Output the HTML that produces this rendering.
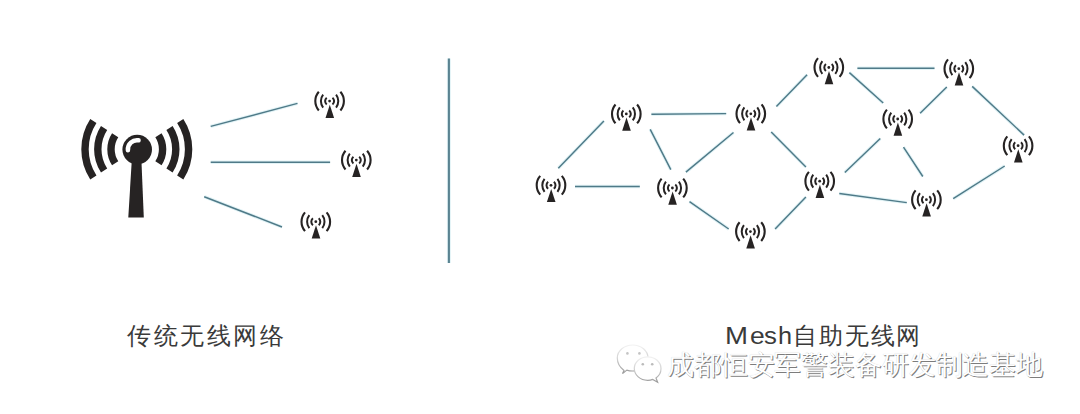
<!DOCTYPE html>
<html><head><meta charset="utf-8"><style>
html,body{margin:0;padding:0;background:#fff;}
body{width:1080px;height:414px;position:relative;overflow:hidden;font-family:"Liberation Sans",sans-serif;}
svg{position:absolute;left:0;top:0;}
.t{position:absolute;white-space:nowrap;color:#3a3a3a;line-height:1;}
.m{position:absolute;top:0;transform-origin:0 0;}
</style></head><body>
<svg width="1080" height="414" viewBox="0 0 1080 414">
<path d="M448.9 58.5V263" stroke="#e2f3f6" stroke-width="4" fill="none"/>
<path d="M210.7 126.4L297.5 103.4M210.7 162.3L330.1 162.3M204.2 196.7L282 227M558.3 168.3L603.9 120.9M575 186.5L639.8 186.5M651.4 114.2L726.2 113.6M650.2 129.3L670.8 169.7M685.9 172.1L733.5 132.5M689.5 201.7L728.7 229M776.4 106.4L807.1 74.8M771.2 131.9L805.9 167.1M775.1 229L805.9 197.1M857.4 68.3L934.5 68.3M849.4 72.6L883.2 103M844.8 172.5L880.3 138.6M839.3 193.5L906.8 202.6M920.1 113.2L946.8 87.1M903.5 147.2L922.8 176.5M972.2 86.4L1024.1 135.1M1004.7 166L953.2 198.7" stroke="#e2f3f6" stroke-width="3.4" fill="none"/>
<path d="M448.9 58.5V263" stroke="#5a8391" stroke-width="2.1" fill="none"/>
<path d="M210.7 126.4L297.5 103.4M210.7 162.3L330.1 162.3M204.2 196.7L282 227M558.3 168.3L603.9 120.9M575 186.5L639.8 186.5M651.4 114.2L726.2 113.6M650.2 129.3L670.8 169.7M685.9 172.1L733.5 132.5M689.5 201.7L728.7 229M776.4 106.4L807.1 74.8M771.2 131.9L805.9 167.1M775.1 229L805.9 197.1M857.4 68.3L934.5 68.3M849.4 72.6L883.2 103M844.8 172.5L880.3 138.6M839.3 193.5L906.8 202.6M920.1 113.2L946.8 87.1M903.5 147.2L922.8 176.5M972.2 86.4L1024.1 135.1M1004.7 166L953.2 198.7" stroke="#4f7a88" stroke-width="1.45" fill="none"/>
<path d="M158.44 135.15A25.8 25.8 0 0 1 158.44 163.25M115.16 163.25A25.8 25.8 0 0 1 115.16 135.15M169.51 127.96A39.0 39.0 0 0 1 169.51 170.44M104.09 170.44A39.0 39.0 0 0 1 104.09 127.96M180.24 120.99A51.8 51.8 0 0 1 180.24 177.41M93.36 177.41A51.8 51.8 0 0 1 93.36 120.99" stroke="#262323" stroke-width="7.4" fill="none"/>
<circle cx="137.2" cy="149.6" r="14.8" fill="#262323"/>
<path d="M131.8 160L141.4 160L143.8 217.5L128.3 217.5Z" fill="#262323"/>
<path d="M127.94 150.20A9.2 9.2 0 0 1 138.54 140.31" stroke="#fff" stroke-width="4.5" stroke-linecap="round" fill="none"/>
<g transform="translate(329.6 101.1)"><g><g fill="none" stroke="#262323"><path d="M2.89 -3.45A4.5 4.5 0 0 1 2.89 3.45M-2.89 3.45A4.5 4.5 0 0 1 -2.89 -3.45" stroke-width="2.0"/><path d="M6.47 -6.46A10.5 10.5 0 0 1 6.47 6.46M-6.47 6.46A10.5 10.5 0 0 1 -6.47 -6.46" stroke-width="2.0"/><path d="M10.79 -9.38A14.3 14.3 0 0 1 10.79 9.38M-10.79 9.38A14.3 14.3 0 0 1 -10.79 -9.38" stroke-width="2.1"/></g><circle cx="0" cy="0" r="1.4" fill="#262323"/><path d="M0.2 3.6L4.5 16.8H-4.1Z" fill="#262323"/></g></g><g transform="translate(356.3 160.1)"><g><g fill="none" stroke="#262323"><path d="M2.89 -3.45A4.5 4.5 0 0 1 2.89 3.45M-2.89 3.45A4.5 4.5 0 0 1 -2.89 -3.45" stroke-width="2.0"/><path d="M6.47 -6.46A10.5 10.5 0 0 1 6.47 6.46M-6.47 6.46A10.5 10.5 0 0 1 -6.47 -6.46" stroke-width="2.0"/><path d="M10.79 -9.38A14.3 14.3 0 0 1 10.79 9.38M-10.79 9.38A14.3 14.3 0 0 1 -10.79 -9.38" stroke-width="2.1"/></g><circle cx="0" cy="0" r="1.4" fill="#262323"/><path d="M0.2 3.6L4.5 16.8H-4.1Z" fill="#262323"/></g></g><g transform="translate(315.8 221.7)"><g><g fill="none" stroke="#262323"><path d="M2.89 -3.45A4.5 4.5 0 0 1 2.89 3.45M-2.89 3.45A4.5 4.5 0 0 1 -2.89 -3.45" stroke-width="2.0"/><path d="M6.47 -6.46A10.5 10.5 0 0 1 6.47 6.46M-6.47 6.46A10.5 10.5 0 0 1 -6.47 -6.46" stroke-width="2.0"/><path d="M10.79 -9.38A14.3 14.3 0 0 1 10.79 9.38M-10.79 9.38A14.3 14.3 0 0 1 -10.79 -9.38" stroke-width="2.1"/></g><circle cx="0" cy="0" r="1.4" fill="#262323"/><path d="M0.2 3.6L4.5 16.8H-4.1Z" fill="#262323"/></g></g><g transform="translate(551 185.3)"><g><g fill="none" stroke="#262323"><path d="M2.89 -3.45A4.5 4.5 0 0 1 2.89 3.45M-2.89 3.45A4.5 4.5 0 0 1 -2.89 -3.45" stroke-width="2.0"/><path d="M6.47 -6.46A10.5 10.5 0 0 1 6.47 6.46M-6.47 6.46A10.5 10.5 0 0 1 -6.47 -6.46" stroke-width="2.0"/><path d="M10.79 -9.38A14.3 14.3 0 0 1 10.79 9.38M-10.79 9.38A14.3 14.3 0 0 1 -10.79 -9.38" stroke-width="2.1"/></g><circle cx="0" cy="0" r="1.4" fill="#262323"/><path d="M0.2 3.6L4.5 16.8H-4.1Z" fill="#262323"/></g></g><g transform="translate(626.3 113.9)"><g><g fill="none" stroke="#262323"><path d="M2.89 -3.45A4.5 4.5 0 0 1 2.89 3.45M-2.89 3.45A4.5 4.5 0 0 1 -2.89 -3.45" stroke-width="2.0"/><path d="M6.47 -6.46A10.5 10.5 0 0 1 6.47 6.46M-6.47 6.46A10.5 10.5 0 0 1 -6.47 -6.46" stroke-width="2.0"/><path d="M10.79 -9.38A14.3 14.3 0 0 1 10.79 9.38M-10.79 9.38A14.3 14.3 0 0 1 -10.79 -9.38" stroke-width="2.1"/></g><circle cx="0" cy="0" r="1.4" fill="#262323"/><path d="M0.2 3.6L4.5 16.8H-4.1Z" fill="#262323"/></g></g><g transform="translate(672.4 188)"><g><g fill="none" stroke="#262323"><path d="M2.89 -3.45A4.5 4.5 0 0 1 2.89 3.45M-2.89 3.45A4.5 4.5 0 0 1 -2.89 -3.45" stroke-width="2.0"/><path d="M6.47 -6.46A10.5 10.5 0 0 1 6.47 6.46M-6.47 6.46A10.5 10.5 0 0 1 -6.47 -6.46" stroke-width="2.0"/><path d="M10.79 -9.38A14.3 14.3 0 0 1 10.79 9.38M-10.79 9.38A14.3 14.3 0 0 1 -10.79 -9.38" stroke-width="2.1"/></g><circle cx="0" cy="0" r="1.4" fill="#262323"/><path d="M0.2 3.6L4.5 16.8H-4.1Z" fill="#262323"/></g></g><g transform="translate(750.8 113.8)"><g><g fill="none" stroke="#262323"><path d="M2.89 -3.45A4.5 4.5 0 0 1 2.89 3.45M-2.89 3.45A4.5 4.5 0 0 1 -2.89 -3.45" stroke-width="2.0"/><path d="M6.47 -6.46A10.5 10.5 0 0 1 6.47 6.46M-6.47 6.46A10.5 10.5 0 0 1 -6.47 -6.46" stroke-width="2.0"/><path d="M10.79 -9.38A14.3 14.3 0 0 1 10.79 9.38M-10.79 9.38A14.3 14.3 0 0 1 -10.79 -9.38" stroke-width="2.1"/></g><circle cx="0" cy="0" r="1.4" fill="#262323"/><path d="M0.2 3.6L4.5 16.8H-4.1Z" fill="#262323"/></g></g><g transform="translate(750.4 231.6)"><g><g fill="none" stroke="#262323"><path d="M2.89 -3.45A4.5 4.5 0 0 1 2.89 3.45M-2.89 3.45A4.5 4.5 0 0 1 -2.89 -3.45" stroke-width="2.0"/><path d="M6.47 -6.46A10.5 10.5 0 0 1 6.47 6.46M-6.47 6.46A10.5 10.5 0 0 1 -6.47 -6.46" stroke-width="2.0"/><path d="M10.79 -9.38A14.3 14.3 0 0 1 10.79 9.38M-10.79 9.38A14.3 14.3 0 0 1 -10.79 -9.38" stroke-width="2.1"/></g><circle cx="0" cy="0" r="1.4" fill="#262323"/><path d="M0.2 3.6L4.5 16.8H-4.1Z" fill="#262323"/></g></g><g transform="translate(828.8 67.5)"><g><g fill="none" stroke="#262323"><path d="M2.89 -3.45A4.5 4.5 0 0 1 2.89 3.45M-2.89 3.45A4.5 4.5 0 0 1 -2.89 -3.45" stroke-width="2.0"/><path d="M6.47 -6.46A10.5 10.5 0 0 1 6.47 6.46M-6.47 6.46A10.5 10.5 0 0 1 -6.47 -6.46" stroke-width="2.0"/><path d="M10.79 -9.38A14.3 14.3 0 0 1 10.79 9.38M-10.79 9.38A14.3 14.3 0 0 1 -10.79 -9.38" stroke-width="2.1"/></g><circle cx="0" cy="0" r="1.4" fill="#262323"/><path d="M0.2 3.6L4.5 16.8H-4.1Z" fill="#262323"/></g></g><g transform="translate(819.7 181.2)"><g><g fill="none" stroke="#262323"><path d="M2.89 -3.45A4.5 4.5 0 0 1 2.89 3.45M-2.89 3.45A4.5 4.5 0 0 1 -2.89 -3.45" stroke-width="2.0"/><path d="M6.47 -6.46A10.5 10.5 0 0 1 6.47 6.46M-6.47 6.46A10.5 10.5 0 0 1 -6.47 -6.46" stroke-width="2.0"/><path d="M10.79 -9.38A14.3 14.3 0 0 1 10.79 9.38M-10.79 9.38A14.3 14.3 0 0 1 -10.79 -9.38" stroke-width="2.1"/></g><circle cx="0" cy="0" r="1.4" fill="#262323"/><path d="M0.2 3.6L4.5 16.8H-4.1Z" fill="#262323"/></g></g><g transform="translate(897.7 119)"><g><g fill="none" stroke="#262323"><path d="M2.89 -3.45A4.5 4.5 0 0 1 2.89 3.45M-2.89 3.45A4.5 4.5 0 0 1 -2.89 -3.45" stroke-width="2.0"/><path d="M6.47 -6.46A10.5 10.5 0 0 1 6.47 6.46M-6.47 6.46A10.5 10.5 0 0 1 -6.47 -6.46" stroke-width="2.0"/><path d="M10.79 -9.38A14.3 14.3 0 0 1 10.79 9.38M-10.79 9.38A14.3 14.3 0 0 1 -10.79 -9.38" stroke-width="2.1"/></g><circle cx="0" cy="0" r="1.4" fill="#262323"/><path d="M0.2 3.6L4.5 16.8H-4.1Z" fill="#262323"/></g></g><g transform="translate(958.8 68.7)"><g><g fill="none" stroke="#262323"><path d="M2.89 -3.45A4.5 4.5 0 0 1 2.89 3.45M-2.89 3.45A4.5 4.5 0 0 1 -2.89 -3.45" stroke-width="2.0"/><path d="M6.47 -6.46A10.5 10.5 0 0 1 6.47 6.46M-6.47 6.46A10.5 10.5 0 0 1 -6.47 -6.46" stroke-width="2.0"/><path d="M10.79 -9.38A14.3 14.3 0 0 1 10.79 9.38M-10.79 9.38A14.3 14.3 0 0 1 -10.79 -9.38" stroke-width="2.1"/></g><circle cx="0" cy="0" r="1.4" fill="#262323"/><path d="M0.2 3.6L4.5 16.8H-4.1Z" fill="#262323"/></g></g><g transform="translate(1018.1 145.7)"><g><g fill="none" stroke="#262323"><path d="M2.89 -3.45A4.5 4.5 0 0 1 2.89 3.45M-2.89 3.45A4.5 4.5 0 0 1 -2.89 -3.45" stroke-width="2.0"/><path d="M6.47 -6.46A10.5 10.5 0 0 1 6.47 6.46M-6.47 6.46A10.5 10.5 0 0 1 -6.47 -6.46" stroke-width="2.0"/><path d="M10.79 -9.38A14.3 14.3 0 0 1 10.79 9.38M-10.79 9.38A14.3 14.3 0 0 1 -10.79 -9.38" stroke-width="2.1"/></g><circle cx="0" cy="0" r="1.4" fill="#262323"/><path d="M0.2 3.6L4.5 16.8H-4.1Z" fill="#262323"/></g></g><g transform="translate(926.4 199.7)"><g><g fill="none" stroke="#262323"><path d="M2.89 -3.45A4.5 4.5 0 0 1 2.89 3.45M-2.89 3.45A4.5 4.5 0 0 1 -2.89 -3.45" stroke-width="2.0"/><path d="M6.47 -6.46A10.5 10.5 0 0 1 6.47 6.46M-6.47 6.46A10.5 10.5 0 0 1 -6.47 -6.46" stroke-width="2.0"/><path d="M10.79 -9.38A14.3 14.3 0 0 1 10.79 9.38M-10.79 9.38A14.3 14.3 0 0 1 -10.79 -9.38" stroke-width="2.1"/></g><circle cx="0" cy="0" r="1.4" fill="#262323"/><path d="M0.2 3.6L4.5 16.8H-4.1Z" fill="#262323"/></g></g>
</svg>
<div class="t" style="left:127px;top:325px;font-size:23.5px;letter-spacing:2.5px;">传统无线网络</div>
<div class="t" style="left:0;top:324.6px;font-size:23px;"><span class="m" style="left:725px;transform:scaleX(1.2)">M</span><span class="m" style="left:750.3px;transform:scaleX(1.15)">e</span><span class="m" style="left:763.5px;transform:scaleX(1.12)">s</span><span class="m" style="left:778.2px;transform:scaleX(1.1)">h</span></div>
<div class="t" style="left:793.2px;top:324px;font-size:24px;letter-spacing:1.8px;">自助无线网</div>
<svg width="1080" height="414" viewBox="0 0 1080 414" style="position:absolute;left:0;top:0">
<defs><linearGradient id="wg" x1="0" y1="0" x2="0" y2="1"><stop offset="0" stop-color="#f2f2f2"/><stop offset="0.5" stop-color="#d0d0d0"/><stop offset="1" stop-color="#999"/></linearGradient></defs><g fill="#fff" stroke="url(#wg)" stroke-width="1.2">
<path d="M624 370.5C619.5 367 617.3 362.8 617.3 358C617.3 350.8 624.2 345 632.7 345C641.2 345 648 350.8 648 358C648 365.2 641.2 371 632.7 371C630.6 371 628.6 370.7 626.8 370.1L622.5 373.6Z"/>
<circle cx="627.4" cy="353.4" r="1.3" fill="#c4c4c4" stroke="none"/><circle cx="639.4" cy="353.4" r="1.3" fill="#c4c4c4" stroke="none"/>
<path d="M656 378C659.3 375.8 661 372.5 661 368.6C661 362.1 655.1 356.9 647.7 356.9C640.3 356.9 634.3 362.1 634.3 368.6C634.3 375.1 640.3 380.3 647.7 380.3C649.5 380.3 651.2 380 652.7 379.4L657.6 382.2Z"/>
<circle cx="642.8" cy="364.3" r="1.3" fill="#bbb" stroke="none"/><circle cx="652.2" cy="364.3" r="1.3" fill="#bbb" stroke="none"/>
</g></svg>
<div class="t" style="left:667px;top:352px;font-size:27px;letter-spacing:-0.15px;color:#fff;text-shadow:1px 1px 0.5px #7c7c7c,0 0 0.7px #c8c8c8;">成都恒安军警装备研发制造基地</div>
</body></html>
